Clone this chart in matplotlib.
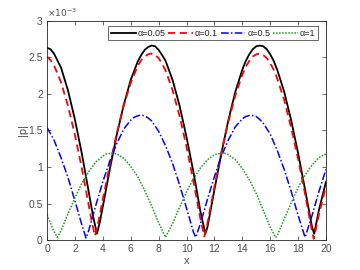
import matplotlib
matplotlib.use("Agg")
import matplotlib.pyplot as plt
from matplotlib.ticker import FuncFormatter, MultipleLocator

plt.rcParams['font.family'] = ['Liberation Sans', 'DejaVu Sans']

# values in units of 1e-3
x_a005 = [0, 0.25, 0.5, 1, 1.5, 2, 2.5, 3, 3.3, 3.58, 3.8, 4, 4.5, 5, 5.5, 6, 6.5, 6.75, 7, 7.25, 7.5,
          7.75, 8, 8.25, 8.5, 9, 9.5, 10, 10.5, 11, 11.35, 11.5, 12, 12.5, 13, 13.5, 14, 14.25, 14.5, 14.75, 15, 15.25,
          15.5, 15.75, 16, 16.25, 16.5, 17, 17.5, 18, 18.5, 19, 19.15, 19.5, 20]
y_a005 = [2.63, 2.61, 2.55, 2.36, 2.05, 1.65, 1.18, 0.65, 0.33, 0.09, 0.26, 0.46, 0.97, 1.44, 1.85, 2.19, 2.44, 2.53, 2.60, 2.64, 2.66,
          2.65, 2.60, 2.53, 2.45, 2.19, 1.84, 1.41, 0.93, 0.39, 0.09, 0.18, 0.69, 1.19, 1.64, 2.03, 2.33, 2.45, 2.54, 2.61, 2.65, 2.66,
          2.65, 2.61, 2.54, 2.45, 2.33, 2.03, 1.64, 1.19, 0.69, 0.18, 0.09, 0.42, 0.80]

x_a01 = [0, 0.25, 0.5, 1, 1.5, 2, 2.5, 3, 3.2, 3.44, 3.7, 4, 4.5, 5, 5.5, 6, 6.5, 6.75, 7, 7.25, 7.45,
         7.75, 8, 8.25, 8.5, 9, 9.5, 10, 10.5, 11, 11.28, 11.5, 12, 12.5, 13, 13.5, 14, 14.25, 14.5, 14.75, 15, 15.25,
         15.5, 15.75, 16, 16.25, 16.5, 17, 17.5, 18, 18.5, 19, 19.12, 19.5, 20]
y_a01 = [2.51, 2.46, 2.39, 2.16, 1.84, 1.44, 0.98, 0.47, 0.26, 0.06, 0.27, 0.56, 1.03, 1.46, 1.84, 2.15, 2.38, 2.46, 2.51, 2.54, 2.55,
         2.53, 2.49, 2.41, 2.32, 2.05, 1.70, 1.28, 0.80, 0.29, 0.05, 0.23, 0.73, 1.20, 1.62, 1.98, 2.26, 2.37, 2.45, 2.51, 2.54, 2.55,
         2.53, 2.49, 2.42, 2.33, 2.21, 1.92, 1.54, 1.11, 0.63, 0.12, 0.02, 0.36, 0.74]

x_a05 = [0, 0.5, 1, 1.5, 2, 2.5, 2.8, 3, 3.5, 4, 4.5, 5, 5.5, 6, 6.25, 6.5, 6.7,
         7, 7.25, 7.5, 8, 8.5, 9, 9.5, 10, 10.5, 10.66, 11, 11.5, 12, 12.5, 13, 13.5, 14, 14.25, 14.6,
         15, 15.25, 15.5, 16, 16.5, 17, 17.5, 18, 18.5, 19, 19.5, 20]
y_a05 = [1.54, 1.37, 1.13, 0.86, 0.54, 0.21, 0.03, 0.14, 0.48, 0.80, 1.08, 1.32, 1.52, 1.64, 1.68, 1.70, 1.71,
         1.70, 1.67, 1.63, 1.49, 1.29, 1.05, 0.76, 0.44, 0.11, 0.04, 0.23, 0.56, 0.87, 1.15, 1.37, 1.55, 1.66, 1.69, 1.71,
         1.69, 1.65, 1.60, 1.45, 1.23, 0.97, 0.67, 0.34, 0.04, 0.34, 0.67, 0.97]

x_a1 = [0, 0.5, 0.74, 1, 1.5, 2, 2.5, 3, 3.5, 4, 4.25, 4.64, 5, 5.25, 5.5, 6, 6.5, 7, 7.5, 8, 8.5,
        9, 9.5, 10, 10.5, 11, 11.5, 12, 12.25, 12.52, 12.75, 13, 13.5, 14, 14.5, 15, 15.5, 16, 16.39,
        16.5, 17, 17.5, 18, 18.5, 19, 19.5, 20]
y_a1 = [0.35, 0.12, 0.04, 0.13, 0.36, 0.58, 0.78, 0.94, 1.07, 1.15, 1.18, 1.19, 1.18, 1.15, 1.12, 1.01, 0.87, 0.68, 0.47, 0.24, 0.04,
        0.23, 0.45, 0.66, 0.84, 0.99, 1.10, 1.17, 1.18, 1.19, 1.19, 1.17, 1.10, 0.98, 0.83, 0.64, 0.41, 0.18, 0.04,
        0.06, 0.29, 0.51, 0.72, 0.89, 1.03, 1.13, 1.18]

labels = ['α=0.05', 'α=0.1', 'α=0.5', 'α=1']
scale = 1e-3

fig = plt.figure(figsize=(3.6, 2.7), dpi=100)
ax = fig.add_axes([0.1306, 0.110, 0.775, 0.8135])

ax.plot(x_a005, [v * scale for v in y_a005], color='black', lw=1.3, ls='-', label=labels[0])
ax.plot(x_a01, [v * scale for v in y_a01], color='#ff0000', lw=1.3, ls=(0, (4, 2.5)), label=labels[1])
ax.plot(x_a05, [v * scale for v in y_a05], color='#0000ff', lw=1.1, ls=(0, (5, 1.5, 1, 1.5)), label=labels[2])
ax.plot(x_a1, [v * scale for v in y_a1], color='#1a9a1a', lw=1.1, ls=(0, (1, 1)), label=labels[3])

ax.set_xlim(0, 20)
ax.set_ylim(0, 3e-3)
ax.xaxis.set_major_locator(MultipleLocator(2))
ax.yaxis.set_major_locator(MultipleLocator(0.5e-3))
ax.yaxis.set_major_formatter(FuncFormatter(lambda v, p: '%g' % round(v / scale, 6)))

gray = '#4d4d4d'
ax.tick_params(direction='in', top=True, right=True, length=3, width=0.6,
               labelsize=7.5, colors=gray, pad=3)
for s in ax.spines.values():
    s.set_color('#262626')
    s.set_linewidth(0.6)

ax.text(0, 1.008, r'$\times10^{-3}$', transform=ax.transAxes, fontsize=6.5,
        color=gray, ha='left', va='bottom')

ax.set_xlabel('x', fontsize=8, color=gray, labelpad=1)
ax.set_ylabel('|p|', fontsize=8, color=gray, labelpad=0)

leg = ax.legend(loc='upper right', ncol=4, fontsize=6.5, frameon=True, fancybox=False,
                edgecolor='#262626', handlelength=2.7, handletextpad=0.25, columnspacing=0.3,
                borderpad=0.3, borderaxespad=0,
                bbox_to_anchor=(318 / 360, 1 - 26 / 270), bbox_transform=fig.transFigure)
leg.get_frame().set_linewidth(0.6)
for t in leg.get_texts():
    t.set_color('#262626')

fig.savefig('out.png', dpi=100)
